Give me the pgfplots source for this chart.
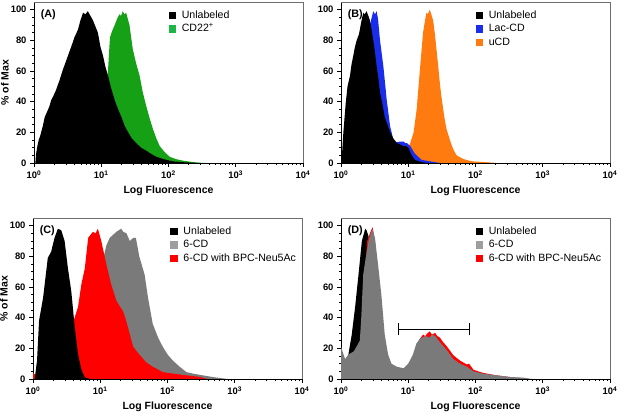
\documentclass[border=0pt]{standalone}
\usepackage{pgfplots}
\pgfplotsset{compat=1.18}
\usepackage{fontspec}
\setmainfont{Liberation Sans}
\definecolor{cgreen}{RGB}{22,160,22}
\definecolor{cgreenlg}{RGB}{30,180,70}
\definecolor{cblue}{RGB}{25,45,235}
\definecolor{corange}{RGB}{255,122,15}
\definecolor{cgray}{RGB}{122,122,122}
\definecolor{cgraylg}{RGB}{158,158,158}
\definecolor{cred}{RGB}{255,0,0}
\definecolor{frameg}{RGB}{110,110,110}

\newcommand{\frametr}{\draw[frameg, line width=0.7pt] (rel axis cs:0,1) -- (rel axis cs:1,1) -- (rel axis cs:1,0);}
\newcommand{\plabel}[1]{\node[anchor=west, font=\fontsize{10.8}{11}\selectfont\bfseries] at (rel axis cs:0.012,0.924) {#1};}

\begin{document}
\begin{tikzpicture}
\useasboundingbox (0,0) rectangle (620pt,414pt);

% ---------------- (A)
\begin{axis}[
  scale only axis, width=269pt, height=161pt,
  xmode=log, xmin=1, xmax=10000, ymin=0, ymax=105,
  clip=false,
  axis x line*=bottom, axis y line*=left,
  axis line style={-, line width=0.9pt, black},
  xtick={1,10,100,1000,10000},
  minor xtick={2,3,4,5,6,7,8,9,20,30,40,50,60,70,80,90,200,300,400,500,600,700,800,900,2000,3000,4000,5000,6000,7000,8000,9000},
  xticklabels={\textbf{10}\textsuperscript{\textbf{0}},\textbf{10}\textsuperscript{\textbf{1}},\textbf{10}\textsuperscript{\textbf{2}},\textbf{10}\textsuperscript{\textbf{3}},\textbf{10}\textsuperscript{\textbf{4}}},
  ytick={0,20,40,60,80,100}, minor y tick num=3,
  tick align=outside, major tick length=4pt, minor tick length=2.2pt,
  tick style={black, line width=0.8pt},
  yticklabels={\textbf{0},\textbf{20},\textbf{40},\textbf{60},\textbf{80},\textbf{100}},
  xticklabel style={font=\fontsize{9.4}{10}\selectfont},
  yticklabel style={font=\fontsize{9.4}{10}\selectfont},
  xlabel={\textbf{Log Fluorescence}},
  xlabel style={at={(axis description cs:0.5,-0.174)}, anchor=center, font=\fontsize{10.5}{12}\selectfont},
  ylabel={\textbf{\% of Max}},
  ylabel style={at={(axis description cs:-0.108,0.5)}, anchor=center, font=\fontsize{10.5}{12}\selectfont},
  legend image code/.code={\fill[#1, draw=none] (0pt,-3.7pt) rectangle (7.4pt,3.7pt); \path[draw=none, fill=none] (0pt,0pt) rectangle (12.6pt,0.1pt);},
  legend cell align=left,
  legend style={at={(0.5,0.951)}, anchor=north west, draw=none, fill=none, font=\fontsize{10.6}{11}\selectfont, inner sep=0pt, row sep=3pt, nodes={inner sep=0.5pt, text height=7.7pt, text depth=1.8pt}},
  at={(34pt,251pt)}, anchor=south west]
\addlegendimage{fill=black}\addlegendentry{Unlabeled}
\addlegendimage{fill=cgreenlg}\addlegendentry{CD22\textsuperscript{+}}
\addplot[draw=none, fill=cgreen, forget plot] coordinates {(6.31,0) (7.5,6) (8.913,15) (10.0,28) (11.22,40) (12.59,60) (13.18,75) (13.49,82) (14.5,86) (15.85,90) (17.2,94) (18.62,97) (19.7,96) (20.89,99) (22.0,97) (23.44,98) (24.8,94) (26.30,90) (27.8,82) (29.51,74) (33.0,65) (37.15,57) (41.5,46) (46.77,37) (52.5,29) (58.88,22) (66.0,16) (74.13,11) (88.0,7) (104.7,4) (130,2.5) (166.0,1.5) (220,0.7) (288.4,0.2) (350,0)} \closedcycle;
\addplot[draw=none, fill=black, forget plot] coordinates {(1.047,0) (1.072,6) (1.122,11) (1.175,15) (1.242,18) (1.35,24) (1.445,30) (1.55,33) (1.698,37) (1.80,41) (1.905,43) (2.1,47) (2.399,54) (2.692,61) (2.858,64) (3.2,70) (3.589,76) (4.0,82) (4.508,87) (4.9,93) (5.370,98) (5.8,97) (6.310,99) (6.9,96) (7.534,93) (8.2,89) (8.913,85) (9.7,76) (10.62,70) (11.5,63) (12.59,57) (14.0,49) (15.85,41) (17.8,35) (19.95,30) (22.4,24) (25.12,20) (28.5,16) (33.11,13) (39.0,10) (46.77,8) (55.0,6) (66.07,4) (78.0,3) (93.33,2) (120,1) (166.0,0.5) (288.4,0)} \closedcycle;
\frametr
\plabel{(A)}
\end{axis}

% ---------------- (B)
\begin{axis}[
  scale only axis, width=269pt, height=161pt,
  xmode=log, xmin=1, xmax=10000, ymin=0, ymax=105,
  clip=false,
  axis x line*=bottom, axis y line*=left,
  axis line style={-, line width=0.9pt, black},
  xtick={1,10,100,1000,10000},
  minor xtick={2,3,4,5,6,7,8,9,20,30,40,50,60,70,80,90,200,300,400,500,600,700,800,900,2000,3000,4000,5000,6000,7000,8000,9000},
  xticklabels={\textbf{10}\textsuperscript{\textbf{0}},\textbf{10}\textsuperscript{\textbf{1}},\textbf{10}\textsuperscript{\textbf{2}},\textbf{10}\textsuperscript{\textbf{3}},\textbf{10}\textsuperscript{\textbf{4}}},
  ytick={0,20,40,60,80,100}, minor y tick num=3,
  tick align=outside, major tick length=4pt, minor tick length=2.2pt,
  tick style={black, line width=0.8pt},
  yticklabels={\textbf{0},\textbf{20},\textbf{40},\textbf{60},\textbf{80},\textbf{100}},
  xticklabel style={font=\fontsize{9.4}{10}\selectfont},
  yticklabel style={font=\fontsize{9.4}{10}\selectfont},
  xlabel={\textbf{Log Fluorescence}},
  xlabel style={at={(axis description cs:0.5,-0.174)}, anchor=center, font=\fontsize{10.5}{12}\selectfont},
  legend image code/.code={\fill[#1, draw=none] (0pt,-3.7pt) rectangle (7.4pt,3.7pt); \path[draw=none, fill=none] (0pt,0pt) rectangle (12.6pt,0.1pt);},
  legend cell align=left,
  legend style={at={(0.5,0.951)}, anchor=north west, draw=none, fill=none, font=\fontsize{10.6}{11}\selectfont, inner sep=0pt, row sep=3pt, nodes={inner sep=0.5pt, text height=7.7pt, text depth=1.8pt}},
  at={(341pt,251pt)}, anchor=south west]
\addlegendimage{fill=black}\addlegendentry{Unlabeled}
\addlegendimage{fill=cblue}\addlegendentry{Lac-CD}
\addlegendimage{fill=corange}\addlegendentry{uCD}
\addplot[draw=none, fill=corange, forget plot] coordinates {(6.761,0) (8.511,4) (10.72,13) (12.02,20) (13.34,35) (14.79,59) (16.60,85) (17.6,92) (18.62,98) (19.5,97) (20.89,100) (22.0,97) (23.44,93) (24.9,84) (26.30,74) (27.9,63) (29.51,52) (31.2,43) (33.11,35) (35.0,28) (37.15,22) (41.0,16) (44.67,11) (48.5,7.5) (52.48,5) (60.0,3.5) (66.07,2.6) (80,1.5) (93.33,1) (147.9,0.5) (204.2,0)} \closedcycle;
\addplot[draw=none, fill=cblue, forget plot] coordinates {(1.4,0) (1.58,30) (2.0,60) (2.512,85) (3.020,99) (3.2,97) (3.388,99) (3.55,94) (3.802,80) (4.266,63) (4.786,41) (5.370,24) (6.026,15) (6.7,13.5) (7.586,14) (8.511,14) (9.0,13) (9.550,13) (10.72,11) (12.59,6) (15.85,2) (25.12,0.5) (30,0)} \closedcycle;
\addplot[draw=none, fill=black, forget plot] coordinates {(1.02,0) (1.023,2) (1.084,20) (1.175,39) (1.25,50) (1.361,57) (1.43,64) (1.524,70) (1.6,75) (1.710,80) (1.85,84) (1.905,87) (2.0,92) (2.138,98) (2.25,97) (2.399,99) (2.55,96) (2.692,93) (2.85,87) (3.020,80) (3.2,72) (3.388,63) (3.6,55) (3.802,46) (4.15,38) (4.467,30) (4.9,25) (5.370,20) (6.0,16) (6.761,13) (7.6,12) (8.511,11) (9.3,11) (10.0,10) (11.22,5) (12.59,2) (15.85,0.5) (20,0)} \closedcycle;
\frametr
\plabel{(B)}
\end{axis}

% ---------------- (C)
\begin{axis}[
  scale only axis, width=269pt, height=161pt,
  xmode=log, xmin=1, xmax=10000, ymin=0, ymax=105,
  clip=false,
  axis x line*=bottom, axis y line*=left,
  axis line style={-, line width=0.9pt, black},
  xtick={1,10,100,1000,10000},
  minor xtick={2,3,4,5,6,7,8,9,20,30,40,50,60,70,80,90,200,300,400,500,600,700,800,900,2000,3000,4000,5000,6000,7000,8000,9000},
  xticklabels={\textbf{10}\textsuperscript{\textbf{0}},\textbf{10}\textsuperscript{\textbf{1}},\textbf{10}\textsuperscript{\textbf{2}},\textbf{10}\textsuperscript{\textbf{3}},\textbf{10}\textsuperscript{\textbf{4}}},
  ytick={0,20,40,60,80,100}, minor y tick num=3,
  tick align=outside, major tick length=4pt, minor tick length=2.2pt,
  tick style={black, line width=0.8pt},
  yticklabels={\textbf{0},\textbf{20},\textbf{40},\textbf{60},\textbf{80},\textbf{100}},
  xticklabel style={font=\fontsize{9.4}{10}\selectfont},
  yticklabel style={font=\fontsize{9.4}{10}\selectfont},
  xlabel={\textbf{Log Fluorescence}},
  xlabel style={at={(axis description cs:0.5,-0.174)}, anchor=center, font=\fontsize{10.5}{12}\selectfont},
  ylabel={\textbf{\% of Max}},
  ylabel style={at={(axis description cs:-0.108,0.5)}, anchor=center, font=\fontsize{10.5}{12}\selectfont},
  legend image code/.code={\fill[#1, draw=none] (0pt,-3.7pt) rectangle (7.4pt,3.7pt); \path[draw=none, fill=none] (0pt,0pt) rectangle (12.6pt,0.1pt);},
  legend cell align=left,
  legend style={at={(0.51,0.951)}, anchor=north west, draw=none, fill=none, font=\fontsize{10.6}{11}\selectfont, inner sep=0pt, row sep=3pt, nodes={inner sep=0.5pt, text height=7.7pt, text depth=1.8pt}},
  at={(33pt,35pt)}, anchor=south west]
\addlegendimage{fill=black}\addlegendentry{Unlabeled}
\addlegendimage{fill=cgraylg}\addlegendentry{6-CD}
\addlegendimage{fill=cred}\addlegendentry{6-CD with BPC-Neu5Ac}
\addplot[draw=none, fill=cgray, forget plot] coordinates {(3.981,0) (5.0,8) (6.31,20) (7.943,45) (10.0,70) (12.30,87) (13.80,92) (17.38,96) (20.42,98) (22.0,96) (24.55,95) (27.5,90) (30.90,92) (33.88,92) (38.02,80) (45.71,68) (51.29,53) (60.26,36) (72.44,27) (85.11,21) (100,16) (120.2,12) (151.4,8) (190.5,4.5) (239.9,3.5) (331.1,2.4) (467.7,1.3) (660.7,0.4) (800,0)} \closedcycle;
\addplot[draw=none, fill=cred, forget plot] coordinates {(1.0,0) (1.0,4) (1.1,2.5) (1.585,3.5) (1.995,8) (2.512,18) (3.162,29) (3.890,36) (4.677,47) (5.248,62) (5.888,72) (6.607,92) (7.762,96) (8.5,95) (9.226,98) (10.35,90) (12.30,75) (14.45,62) (17.38,51) (21.88,44) (23.5,40) (25.70,34) (30.90,21) (38.02,16) (47.86,11) (60.26,8) (85.11,4.5) (120.2,3.5) (190.5,2.4) (302.0,1.3) (371.5,0.2) (400,0)} \closedcycle;
\addplot[draw=none, fill=black, forget plot] coordinates {(1.059,0) (1.148,12) (1.230,38) (1.413,53) (1.660,79) (1.862,83) (2.089,92) (2.344,98) (2.630,97) (2.951,90) (3.311,72) (3.715,57) (4.169,34) (4.677,16) (5.248,6) (5.888,1) (7.079,0)} \closedcycle;
\frametr
\plabel{(C)}
\end{axis}

% ---------------- (D)
\begin{axis}[
  scale only axis, width=269pt, height=161pt,
  xmode=log, xmin=1, xmax=10000, ymin=0, ymax=105,
  clip=false,
  axis x line*=bottom, axis y line*=left,
  axis line style={-, line width=0.9pt, black},
  xtick={1,10,100,1000,10000},
  minor xtick={2,3,4,5,6,7,8,9,20,30,40,50,60,70,80,90,200,300,400,500,600,700,800,900,2000,3000,4000,5000,6000,7000,8000,9000},
  xticklabels={\textbf{10}\textsuperscript{\textbf{0}},\textbf{10}\textsuperscript{\textbf{1}},\textbf{10}\textsuperscript{\textbf{2}},\textbf{10}\textsuperscript{\textbf{3}},\textbf{10}\textsuperscript{\textbf{4}}},
  ytick={0,20,40,60,80,100}, minor y tick num=3,
  tick align=outside, major tick length=4pt, minor tick length=2.2pt,
  tick style={black, line width=0.8pt},
  yticklabels={\textbf{0},\textbf{20},\textbf{40},\textbf{60},\textbf{80},\textbf{100}},
  xticklabel style={font=\fontsize{9.4}{10}\selectfont},
  yticklabel style={font=\fontsize{9.4}{10}\selectfont},
  xlabel={\textbf{Log Fluorescence}},
  xlabel style={at={(axis description cs:0.5,-0.174)}, anchor=center, font=\fontsize{10.5}{12}\selectfont},
  legend image code/.code={\fill[#1, draw=none] (0pt,-3.7pt) rectangle (7.4pt,3.7pt); \path[draw=none, fill=none] (0pt,0pt) rectangle (12.6pt,0.1pt);},
  legend cell align=left,
  legend style={at={(0.5,0.951)}, anchor=north west, draw=none, fill=none, font=\fontsize{10.6}{11}\selectfont, inner sep=0pt, row sep=3pt, nodes={inner sep=0.5pt, text height=7.7pt, text depth=1.8pt}},
  at={(341pt,35pt)}, anchor=south west]
\addlegendimage{fill=black}\addlegendentry{Unlabeled}
\addlegendimage{fill=cgraylg}\addlegendentry{6-CD}
\addlegendimage{fill=cred}\addlegendentry{6-CD with BPC-Neu5Ac}
\addplot[draw=none, fill=black, forget plot] coordinates {(1.2,0) (1.288,16) (1.445,29) (1.622,47) (1.820,68) (2.042,90) (2.291,98) (2.4,97) (2.570,93) (2.8,60) (3.0,20) (3.2,0)} \closedcycle;
\addplot[draw=none, fill=cred, forget plot] coordinates {(2.0,0) (2.2,60) (2.45,90) (2.75,96) (2.95,99) (3.2,90) (4.0,40) (5.0,8) (6.7,7) (8.5,6) (10,9) (11.75,15) (13.18,22) (14.79,26) (16.6,29) (17.78,28) (19.5,30) (20.89,31) (22.5,29) (25.12,30) (27.0,28) (29.51,27) (33.0,24) (37.15,21.5) (46.77,15.5) (58.88,12) (74.13,9.5) (80,10) (93.33,6) (128.8,4) (204.2,2.4) (323.6,1.3) (500,0.5) (600,0)} \closedcycle;
\addplot[draw=none, fill=cgray, forget plot] coordinates {(1.0,0) (1.0,21) (1.148,13) (1.288,16) (1.55,18) (1.905,25) (2.0,40) (2.138,68) (2.35,80) (2.57,90) (2.917,98) (3.199,92) (3.548,75) (3.981,55) (4.467,29) (5.012,16) (5.623,10) (6.761,8) (8.511,7) (10,10) (11.75,16) (13.18,23) (14.79,26) (17.78,28) (20.89,27) (22.5,29) (25.12,28) (29.51,24) (37.15,19) (46.77,13) (58.88,10) (74.13,8) (93.33,5) (128.8,3.5) (204.2,2.4) (323.6,1.3) (512.9,0.9) (645.7,0.2) (700,0)} \closedcycle;
\draw[black, line width=1pt] (axis cs:7.08,28.5) -- (axis cs:7.08,36.5);
\draw[black, line width=1pt] (axis cs:80.5,28.5) -- (axis cs:80.5,36.5);
\draw[black, line width=1pt] (axis cs:7.08,32.5) -- (axis cs:80.5,32.5);
\frametr
\plabel{(D)}
\end{axis}
\end{tikzpicture}
\end{document}
